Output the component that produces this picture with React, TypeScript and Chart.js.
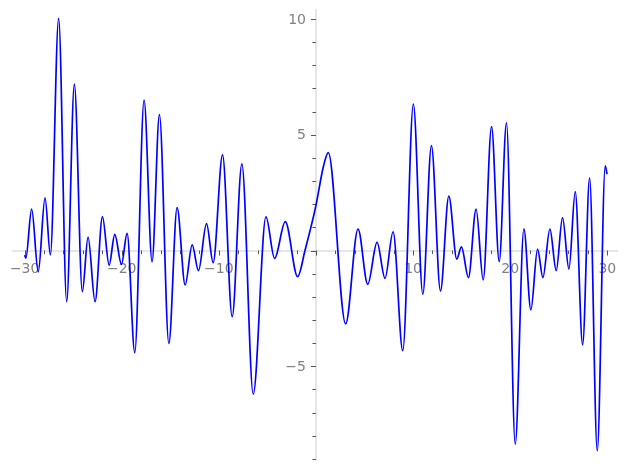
import React, { useEffect, useRef } from 'react';
import { Chart, registerables } from 'chart.js';

Chart.register(...registerables);

const xValues = [
  -30.0, -29.88, -29.28, -28.6, -27.9, -27.35, -26.5, -25.67, -24.88, -24.06,
  -23.47, -22.75, -21.99, -21.3, -20.72, -20.03, -19.45, -18.66, -17.7, -16.88,
  -16.12, -15.15, -14.3, -13.47, -12.75, -12.1, -11.27, -10.59, -9.62, -8.63,
  -7.63, -6.46, -5.15, -4.26, -3.16, -1.89, -1.13, 0.0, 0.76, 1.27,
  3.06, 4.33, 5.33, 6.29, 7.11, 7.94, 8.94, 10.03, 11.0, 11.89,
  12.82, 13.68, 14.5, 14.98, 15.7, 16.49, 17.22, 18.08, 18.87, 19.62,
  20.52, 21.41, 22.13, 22.82, 23.37, 24.09, 24.74, 25.39, 26.05, 26.7,
  27.46, 28.18, 28.97, 29.79, 29.97,
];
const yValues = [
  -0.2, -0.33, 1.79, -0.92, 2.27, -0.19, 10.03, -2.21, 7.19, -1.78,
  0.58, -2.21, 1.46, -0.63, 0.7, -0.6, 0.74, -4.41, 6.5, -0.48,
  5.87, -4.01, 1.85, -1.49, 0.24, -0.87, 1.16, -0.53, 4.13, -2.86,
  3.74, -6.2, 1.45, -0.34, 1.25, -1.13, 0.0, 1.95, 3.62, 4.23,
  -3.17, 0.93, -1.46, 0.35, -1.2, 0.81, -4.33, 6.32, -1.89, 4.53,
  -1.75, 2.35, -0.37, 0.16, -1.17, 1.79, -1.27, 5.35, -0.48, 5.52,
  -8.37, 0.94, -2.57, 0.06, -1.17, 0.92, -0.87, 1.42, -0.8, 2.54,
  -4.08, 3.14, -8.66, 3.66, 3.3,
];

const xTickLabels = [-30, -20, -10, 10, 20, 30];
const yTickLabels = [-5, 5, 10];

const fmt = (v: number) => (v < 0 ? '\u2212' + Math.abs(v) : String(v));
const FONT_FAMILY = 'DejaVu Sans';
const FONT_SIZE = 14;
const LABEL_COLOR = '#808080';

const zeroPad = (s: any) => {
  s.paddingTop = 0;
  s.paddingBottom = 0;
  s.paddingLeft = 0;
  s.paddingRight = 0;
};

const tickPlugin = {
  id: 'customTicks',
  beforeDatasetsDraw(chart: any) {
    const { ctx } = chart;
    const xs = chart.scales.x;
    const ys = chart.scales.y;
    const y0 = ys.getPixelForValue(0);
    const x0 = xs.getPixelForValue(0);
    ctx.save();
    ctx.strokeStyle = '#555555';
    ctx.lineWidth = 1;
    ctx.beginPath();
    for (const t of xs.ticks) {
      const v = t.value;
      const major = Math.abs(v % 10) < 1e-9;
      const len = major ? 4 : 2.5;
      const px = Math.round(xs.getPixelForValue(v)) + 0.5;
      ctx.moveTo(px, y0);
      ctx.lineTo(px, y0 + 1 + len);
    }
    for (const t of ys.ticks) {
      const v = t.value;
      const major = Math.abs(v % 5) < 1e-9;
      const len = major ? 4 : 2.5;
      const py = Math.round(ys.getPixelForValue(v)) + 0.5;
      ctx.moveTo(x0, py);
      ctx.lineTo(x0 - 1 - len, py);
    }
    ctx.stroke();
    // y tick labels, to the left of the centred y axis
    ctx.fillStyle = LABEL_COLOR;
    ctx.font = `${FONT_SIZE}px "${FONT_FAMILY}"`;
    ctx.textAlign = 'right';
    ctx.textBaseline = 'middle';
    for (const v of yTickLabels) {
      ctx.fillText(fmt(v), x0 - 10, ys.getPixelForValue(v) + 1);
    }
    ctx.restore();
  },
};

export default function App() {
  const ref = useRef<HTMLCanvasElement>(null);
  useEffect(() => {
    if (!ref.current) return;
    const font = { family: FONT_FAMILY, size: FONT_SIZE };
    const chart = new Chart(ref.current, {
      type: 'line',
      data: {
        datasets: [
          {
            data: xValues.map((x, i) => ({ x, y: yValues[i] })),
            borderColor: '#0000ff',
            borderWidth: 1.7,
            pointRadius: 0,
            fill: false,
            tension: 0.4,
            cubicInterpolationMode: 'monotone',
          },
        ],
      },
      options: {
        animation: false,
        responsive: true,
        maintainAspectRatio: false,
        layout: { padding: { left: 13, right: 10, top: 10, bottom: 10 } },
        plugins: { legend: { display: false }, tooltip: { enabled: false } },
        scales: {
          x: {
            type: 'linear',
            position: { y: 0 },
            min: -31.2,
            max: 31.0,
            afterFit: zeroPad,
            ticks: {
              stepSize: 2,
              includeBounds: false,
              autoSkip: false,
              maxRotation: 0,
              padding: 6,
              color: LABEL_COLOR,
              font,
              callback: (v: any) => (xTickLabels.includes(Number(v)) ? fmt(Number(v)) : ''),
            },
            grid: { drawOnChartArea: false, drawTicks: true, tickLength: 4, tickColor: 'rgba(0,0,0,0)' },
            border: { display: true, color: '#e6e6e6', width: 2 },
          },
          y: {
            type: 'linear',
            position: { x: 0 },
            min: -9.05,
            max: 10.39,
            afterFit: zeroPad,
            ticks: {
              stepSize: 1,
              includeBounds: false,
              autoSkip: false,
              color: LABEL_COLOR,
              font,
              callback: () => '',
            },
            grid: { drawOnChartArea: false, drawTicks: true, tickLength: 4, tickColor: 'rgba(0,0,0,0)' },
            border: { display: true, color: '#e6e6e6', width: 2 },
          },
        },
      } as any,
      plugins: [tickPlugin],
    });
    return () => chart.destroy();
  }, []);
  return (
    <div style={{ position: 'fixed', left: 0, top: 0, width: 627, height: 470 }}>
      <canvas ref={ref} />
    </div>
  );
}
